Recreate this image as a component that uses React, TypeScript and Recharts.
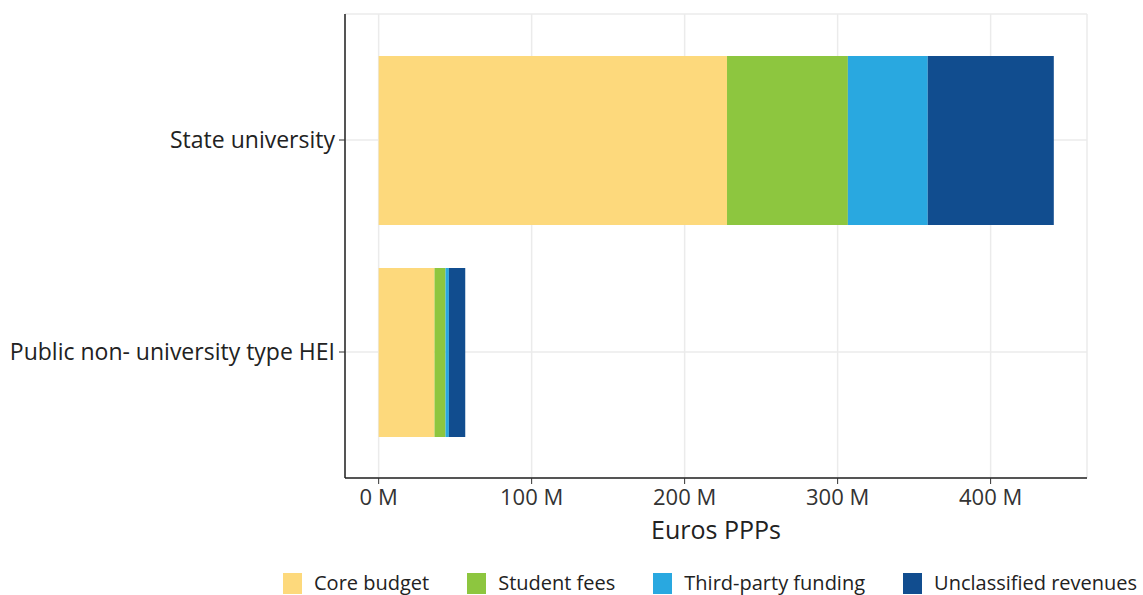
import { BarChart, Bar, XAxis, YAxis, CartesianGrid, Legend } from "recharts"

const categories = ["State university", "Public non- university type HEI"]
const coreBudget = [227.7, 36.5]
const studentFees = [79.0, 7.2]
const thirdParty = [52.2, 2.2]
const unclassified = [82.4, 10.7]
const xTicks = [0, 100, 200, 300, 400]

const series = [
    { key: "core", name: "Core budget", color: "#FDD97C", values: coreBudget },
    { key: "fees", name: "Student fees", color: "#8DC63F", values: studentFees },
    { key: "third", name: "Third-party funding", color: "#29A8E0", values: thirdParty },
    { key: "uncl", name: "Unclassified revenues", color: "#114D8F", values: unclassified },
]

const data = categories.map((name, i) => {
    const row: any = { name }
    series.forEach(s => { row[s.key] = s.values[i] })
    return row
})

const FONT = "'Open Sans', sans-serif"

const LegendBox = () => (
    <div style={{ display: "flex", alignItems: "center", fontFamily: FONT, fontSize: 20, color: "#222", lineHeight: "22px" }}>
        {series.map(s => (
            <div key={s.key} style={{ display: "flex", alignItems: "center", marginRight: 38 }}>
                <span style={{ width: 19, height: 21, background: s.color, display: "inline-block", marginRight: 12 }} />
                <span style={{ whiteSpace: "nowrap" }}>{s.name}</span>
            </div>
        ))}
    </div>
)

export default function App() {
    return (
        <div style={{ position: "absolute", left: 0, top: 0, background: "#fff" }}>
            <BarChart width={1143} height={595} data={data} layout="vertical"
                margin={{ top: 14, right: 56, left: 0, bottom: 0 }}>
                <CartesianGrid stroke="#ebebeb" strokeWidth={1.5} />
                <XAxis type="number" domain={[-22, 463]} ticks={xTicks} allowDataOverflow
                    tickFormatter={(v: number) => `${v} M`} height={117}
                    axisLine={{ stroke: "#222", strokeWidth: 1.5 }} tickLine={{ stroke: "#333" }}
                    tickSize={6} tickMargin={5}
                    tick={{ fill: "#333", fontSize: 22, fontFamily: FONT }}
                    label={{ value: "Euros PPPs", position: "insideTop", offset: 43, fill: "#222", fontSize: 25, fontFamily: FONT }} />
                <YAxis type="category" dataKey="name" width={345} padding={{ top: 20, bottom: 20 }}
                    axisLine={{ stroke: "#222", strokeWidth: 1.5 }} tickLine={{ stroke: "#333" }}
                    tickSize={6} tickMargin={4}
                    tick={{ fill: "#222", fontSize: 23, fontFamily: FONT }} />
                {series.map(s => (
                    <Bar key={s.key} dataKey={s.key} name={s.name} stackId="a" fill={s.color}
                        barSize={169} isAnimationActive={false} />
                ))}
                <Legend verticalAlign="middle" align="center" layout="horizontal"
                    wrapperStyle={{ top: 572, left: 283, width: 900 }} content={() => <LegendBox />} />
            </BarChart>
        </div>
    )
}
